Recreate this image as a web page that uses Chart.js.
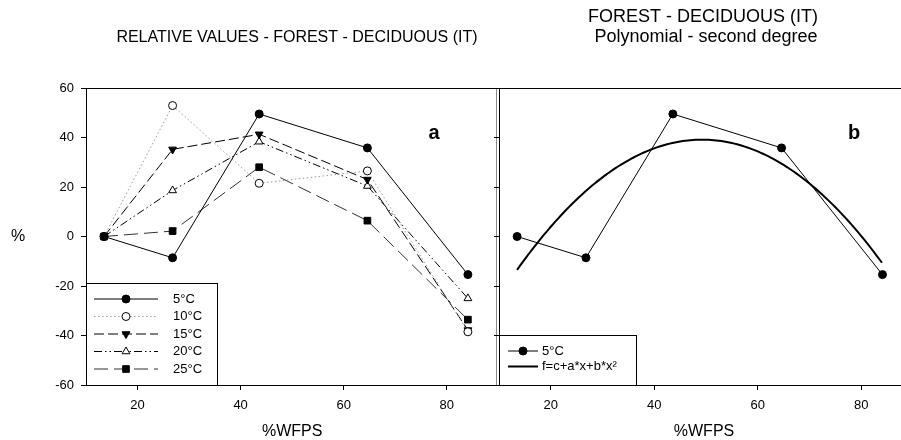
<!DOCTYPE html>
<html>
<head>
<meta charset="utf-8">
<script src="https://cdn.jsdelivr.net/npm/chart.js@4.4.1/dist/chart.umd.min.js"></script>
<style>
  html, body { margin: 0; padding: 0; background: #fff; overflow: hidden; width: 901px; height: 440px; }
  canvas { position: absolute; top: 0; }
  #chartA { left: 0; }
  #chartB { left: 460px; }
</style>
</head>
<body>
<canvas id="chartA" width="504" height="440"></canvas>
<canvas id="chartB" width="460" height="440"></canvas>
<script>
// %WFPS positions and relative values (%) per temperature
const wfps = [13.5, 26.8, 43.6, 64.6, 84.1];
const t5 = [0, -8.6, 49.5, 35.8, -15.4];
const t10 = [0, 52.9, 21.5, 26.5, -38.5];
const t15 = [0, 35.2, 41.3, 23.0, -37.8];
const t20 = [0, 18.6, 38.3, 20.4, -25.0];
const t25 = [0, 2.2, 28.0, 6.4, -33.6];
const xTicks = [20, 40, 60, 80];
const yTicks = [-60, -40, -20, 0, 20, 40, 60];

const FONT = 'Arial, "Liberation Sans", sans-serif';
Chart.defaults.font.family = FONT;
Chart.defaults.color = '#000';

const pts = (ys) => wfps.map((x, i) => ({ x: x, y: ys[i] }));

// least squares fit f = c + a*x + b*x^2
function polyFit2(xs, ys) {
  let S = [0, 0, 0, 0, 0], T = [0, 0, 0];
  xs.forEach((x, i) => {
    for (let k = 0; k < 5; k++) S[k] += Math.pow(x, k);
    for (let k = 0; k < 3; k++) T[k] += ys[i] * Math.pow(x, k);
  });
  const M = [[S[0], S[1], S[2], T[0]], [S[1], S[2], S[3], T[1]], [S[2], S[3], S[4], T[2]]];
  for (let i = 0; i < 3; i++) {
    for (let j = i + 1; j < 3; j++) {
      const f = M[j][i] / M[i][i];
      for (let k = i; k < 4; k++) M[j][k] -= f * M[i][k];
    }
  }
  const r = [0, 0, 0];
  for (let i = 2; i >= 0; i--) {
    let s = M[i][3];
    for (let k = i + 1; k < 3; k++) s -= M[i][k] * r[k];
    r[i] = s / M[i][i];
  }
  return r; // [c, a, b]
}

const coef = polyFit2(wfps, t5);
const fitPts = [];
for (let x = wfps[0]; x <= wfps[wfps.length - 1] + 0.01; x += 0.5) {
  fitPts.push({ x: x, y: coef[0] + coef[1] * x + coef[2] * x * x });
}

function series(label, ys, o) {
  return Object.assign({
    label: label, data: pts(ys), borderColor: '#000', borderWidth: 1, borderDash: [],
    pointStyle: 'circle', pointRadius: 4, pointRotation: 0,
    pointBackgroundColor: '#000', pointBorderColor: '#000', pointBorderWidth: 1,
    tension: 0, fill: false
  }, o);
}

function scales(showYLabels, yWidth) {
  return {
    x: {
      type: 'linear', min: 10, max: 90,
      afterBuildTicks: (s) => { s.ticks = xTicks.map(v => ({ value: v })); },
      afterFit: (s) => { s.height = 55; s.paddingLeft = 0; s.paddingRight = 0; },
      grid: { drawOnChartArea: false, drawTicks: true, tickLength: 5, color: '#000' },
      border: { color: '#000', width: 1 },
      ticks: { font: { size: 13 }, color: '#000', padding: 8, maxRotation: 0 }
    },
    y: {
      min: -60, max: 60,
      afterBuildTicks: (s) => { s.ticks = yTicks.map(v => ({ value: v })); },
      afterFit: (s) => { s.width = yWidth; s.paddingTop = 0; s.paddingBottom = 0; },
      grid: { drawOnChartArea: false, drawTicks: true, tickLength: 5, color: '#000' },
      border: { color: '#000', width: 1 },
      ticks: { display: showYLabels, font: { size: 13 }, color: '#000', padding: 7 }
    }
  };
}

function drawLegend(ctx, chart, box, rows, lineX0, lineX1, textX) {
  ctx.save();
  ctx.fillStyle = '#fff';
  ctx.fillRect(box.x, box.y, box.w, box.h);
  ctx.strokeStyle = '#000';
  ctx.lineWidth = 1;
  ctx.strokeRect(box.x + 0.5, box.y + 0.5, box.w, box.h);
  chart.data.datasets.forEach((ds, i) => {
    const y = rows[i];
    ctx.strokeStyle = ds.borderColor;
    ctx.lineWidth = ds.borderWidth;
    ctx.setLineDash(ds.borderDash);
    ctx.beginPath();
    ctx.moveTo(lineX0, y);
    ctx.lineTo(lineX1, y);
    ctx.stroke();
    ctx.setLineDash([]);
    if (ds.pointRadius > 0) {
      ctx.fillStyle = ds.pointBackgroundColor;
      ctx.strokeStyle = ds.pointBorderColor;
      ctx.lineWidth = 1;
      Chart.helpers.drawPoint(ctx, { pointStyle: ds.pointStyle, rotation: ds.pointRotation, radius: ds.pointRadius, borderWidth: 1 }, (lineX0 + lineX1) / 2, y);
    }
    ctx.fillStyle = '#000';
    ctx.font = '13px ' + FONT;
    ctx.textAlign = 'left';
    ctx.textBaseline = 'middle';
    ctx.fillText(ds.label, textX, y);
  });
  ctx.restore();
}

function text(ctx, str, x, y, font, align) {
  ctx.font = font;
  ctx.fillStyle = '#000';
  ctx.textAlign = align || 'center';
  ctx.textBaseline = 'middle';
  ctx.fillText(str, x, y);
}

const decoA = {
  id: 'decoA',
  afterDraw(chart) {
    const ctx = chart.ctx, ca = chart.chartArea;
    ctx.save();
    ctx.strokeStyle = '#000';
    ctx.lineWidth = 1;
    ctx.beginPath();
    ctx.moveTo(ca.left, Math.round(ca.top) + 0.5);
    ctx.lineTo(ca.right, Math.round(ca.top) + 0.5);
    ctx.stroke();
    ctx.strokeStyle = '#888';
    ctx.beginPath();
    ctx.moveTo(Math.round(ca.right) - 1.5, ca.top);
    ctx.lineTo(Math.round(ca.right) - 1.5, ca.bottom);
    ctx.stroke();
    text(ctx, 'RELATIVE VALUES - FOREST - DECIDUOUS (IT)', 297, 38, '16px ' + FONT);
    text(ctx, '%WFPS', (ca.left + ca.right) / 2, 432, '16px ' + FONT);
    text(ctx, '%', 18, (ca.top + ca.bottom) / 2, '16px ' + FONT);
    text(ctx, 'a', 434, 133, 'bold 20px ' + FONT);
    const b = Math.round(ca.bottom);
    drawLegend(ctx, chart, { x: Math.round(ca.left), y: b - 102, w: 131, h: 102 },
      [b - 86, b - 68.5, b - 51, b - 33.5, b - 16], ca.left + 8, ca.left + 72, ca.left + 87);
    ctx.restore();
  }
};

const decoB = {
  id: 'decoB',
  afterDraw(chart) {
    const ctx = chart.ctx, ca = chart.chartArea;
    ctx.save();
    ctx.strokeStyle = '#000';
    ctx.lineWidth = 1;
    ctx.beginPath();
    ctx.moveTo(ca.left, Math.round(ca.top) + 0.5);
    ctx.lineTo(ca.right, Math.round(ca.top) + 0.5);
    ctx.stroke();
    text(ctx, 'FOREST - DECIDUOUS (IT)', 703 - 460, 17, '18px ' + FONT);
    text(ctx, 'Polynomial - second degree', 706 - 460, 37, '18px ' + FONT);
    text(ctx, '%WFPS', 704 - 460, 432, '16px ' + FONT);
    text(ctx, 'b', 854 - 460, 133, 'bold 20px ' + FONT);
    const b = Math.round(ca.bottom);
    drawLegend(ctx, chart, { x: Math.round(ca.left), y: b - 50, w: 137, h: 50 },
      [b - 34, b - 18.5], ca.left + 9, ca.left + 39, ca.left + 43);
    ctx.restore();
  }
};

new Chart(document.getElementById('chartA'), {
  type: 'line',
  data: {
    datasets: [
      series('5°C', t5, {}),
      series('10°C', t10, { borderColor: '#999', borderDash: [1.5, 2.5], pointBackgroundColor: '#fff' }),
      series('15°C', t15, { borderDash: [10, 4], pointStyle: 'triangle', pointRotation: 180, pointRadius: 4.5 }),
      series('20°C', t20, { borderDash: [8, 3, 1.5, 3, 1.5, 3], pointStyle: 'triangle', pointRadius: 4.5, pointBackgroundColor: '#fff' }),
      series('25°C', t25, { borderColor: '#333', borderDash: [14, 6], pointStyle: 'rect', pointRadius: 4.7, pointBorderColor: '#000' })
    ]
  },
  options: {
    responsive: false, animation: false,
    layout: { padding: { top: 88, right: 1, left: 0, bottom: 0 } },
    plugins: { legend: { display: false }, tooltip: { enabled: false } },
    scales: scales(true, 86)
  },
  plugins: [decoA]
});

new Chart(document.getElementById('chartB'), {
  type: 'line',
  data: {
    datasets: [
      series('5°C', t5, {}),
      { label: 'f=c+a*x+b*x²', data: fitPts, borderColor: '#000', borderWidth: 2, borderDash: [], pointRadius: 0, tension: 0, fill: false }
    ]
  },
  options: {
    responsive: false, animation: false,
    layout: { padding: { top: 88, right: 7, left: 0, bottom: 0 } },
    plugins: { legend: { display: false }, tooltip: { enabled: false } },
    scales: scales(false, 39)
  },
  plugins: [decoB]
});
</script>
</body>
</html>
